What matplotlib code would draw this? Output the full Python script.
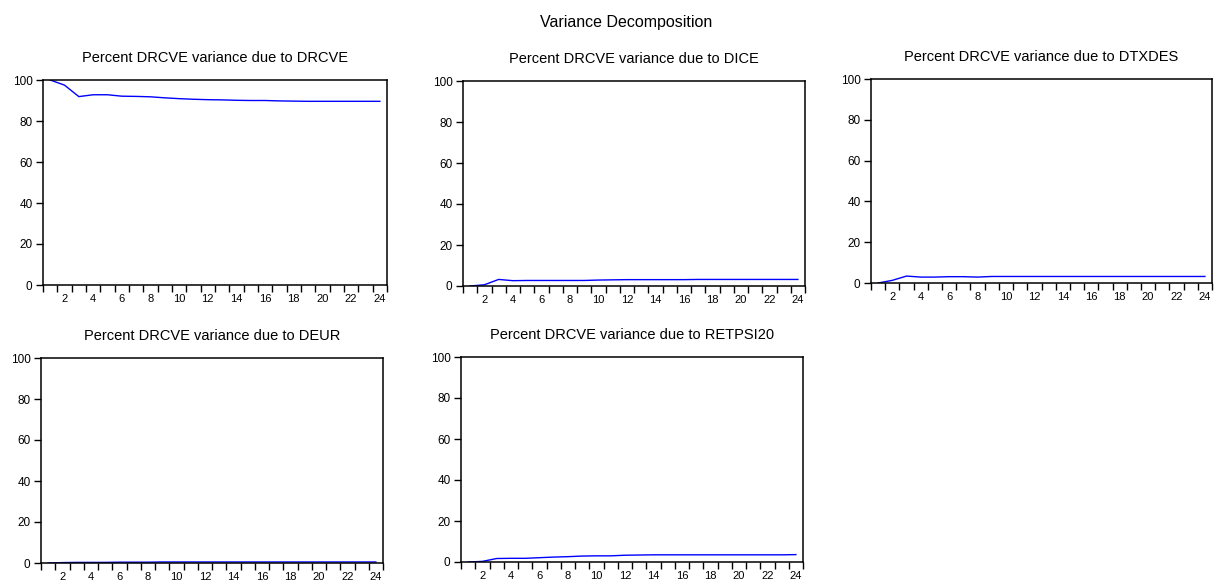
import matplotlib
matplotlib.use("Agg")
import matplotlib.pyplot as plt
import numpy as np

plt.rcParams['font.family'] = ['Liberation Sans', 'DejaVu Sans']

periods = list(range(1, 25))

drcve = [100.0, 97.5, 91.9, 92.8, 92.8, 92.1, 92.0, 91.8, 91.3, 90.9, 90.6, 90.4,
         90.3, 90.1, 90.0, 90.0, 89.8, 89.7, 89.6, 89.6, 89.6, 89.6, 89.6, 89.6]
dice = [0.0, 0.6, 3.2, 2.6, 2.7, 2.7, 2.7, 2.7, 2.7, 2.9, 3.0, 3.1,
        3.1, 3.1, 3.1, 3.1, 3.2, 3.2, 3.2, 3.2, 3.2, 3.2, 3.2, 3.2]
dtxdes = [0.0, 1.3, 3.4, 2.9, 2.9, 3.1, 3.1, 2.9, 3.2, 3.2, 3.2, 3.2,
          3.2, 3.2, 3.2, 3.2, 3.2, 3.2, 3.2, 3.2, 3.2, 3.2, 3.2, 3.2]
deur = [0.0, 0.2, 0.3, 0.3, 0.3, 0.4, 0.4, 0.4, 0.5, 0.5, 0.5, 0.5,
        0.5, 0.5, 0.5, 0.5, 0.5, 0.5, 0.5, 0.5, 0.5, 0.5, 0.5, 0.5]
retpsi20 = [0.0, 0.3, 1.7, 1.8, 1.8, 2.1, 2.4, 2.6, 2.9, 3.0, 3.0, 3.3,
            3.4, 3.5, 3.5, 3.5, 3.5, 3.5, 3.5, 3.5, 3.5, 3.5, 3.5, 3.6]

titles = ['Percent DRCVE variance due to DRCVE',
          'Percent DRCVE variance due to DICE',
          'Percent DRCVE variance due to DTXDES',
          'Percent DRCVE variance due to DEUR',
          'Percent DRCVE variance due to RETPSI20']
series = [drcve, dice, dtxdes, deur, retpsi20]

W, H = 1215, 585
fig = plt.figure(figsize=(W / 100, H / 100), dpi=100)

# panel boxes in pixels: left, top, right, bottom
boxes = [(43, 80, 387, 285),
         (463, 81, 805, 286),
         (871, 79, 1212, 283),
         (41, 358, 383, 563),
         (461, 357, 803, 562)]

for (l, t, r, b), title, vals in zip(boxes, titles, series):
    ax = fig.add_axes([l / W, 1 - b / H, (r - l) / W, (b - t) / H])
    ax.plot(periods, vals, color='#0000ff', linewidth=1)
    ax.set_xlim(0.5, 24.5)
    ax.set_ylim(0, 100)
    ax.set_yticks([0, 20, 40, 60, 80, 100])
    # tick marks sit between periods, labels on even periods
    ax.set_xticks(np.arange(0.5, 25, 1.0))
    ax.set_xticklabels([])
    ax.set_xticks(range(2, 25, 2), minor=True)
    ax.set_xticklabels([str(p) for p in range(2, 25, 2)], minor=True)
    ax.tick_params(axis='x', which='major', direction='out', length=5, width=1)
    ax.tick_params(axis='x', which='minor', length=0, pad=6.5, labelsize=8)
    ax.tick_params(axis='y', direction='out', length=5, width=1, labelsize=8.5, pad=2.5)
    for s in ax.spines.values():
        s.set_linewidth(1.1)
    ax.set_title(title, fontsize=10.5, pad=13)

fig.text(626 / W, 1 - 22 / H, 'Variance Decomposition', ha='center', va='center', fontsize=11.5)

fig.savefig('out.png', dpi=100)
